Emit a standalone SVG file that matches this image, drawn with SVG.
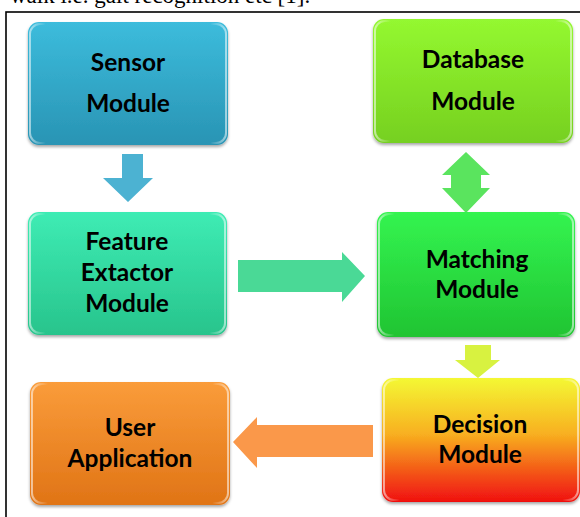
<svg xmlns="http://www.w3.org/2000/svg" width="580" height="517" viewBox="0 0 580 517">
  <style>
    .lbl { font-family: "Lato", "Open Sans", "Liberation Sans", sans-serif; font-weight: bold; font-size: 24.5px; fill: #000; text-anchor: middle; }
    .box { filter: url(#shadow); }
    .rim { fill: none; stroke: url(#rimGrad); stroke-width: 2; }
    .prose { font-family: "Liberation Serif", serif; font-size: 23px; fill: #000; }
  </style>
  <defs>
    <filter id="shadow" x="-10%" y="-10%" width="120%" height="125%">
      <feDropShadow dx="0" dy="2" stdDeviation="1.5" flood-color="#000" flood-opacity="0.35"/>
    </filter>
    <linearGradient id="rimGrad" x1="0" y1="0" x2="1" y2="0">
      <stop offset="0" stop-color="#fff" stop-opacity="0.55"/>
      <stop offset="0.08" stop-color="#fff" stop-opacity="0"/>
      <stop offset="0.92" stop-color="#fff" stop-opacity="0"/>
      <stop offset="1" stop-color="#fff" stop-opacity="0.55"/>
    </linearGradient>
    <linearGradient id="gSensor" x1="0" y1="0" x2="0" y2="1">
      <stop offset="0" stop-color="#3cbcdc"/>
      <stop offset="1" stop-color="#2994b4"/>
    </linearGradient>
    <linearGradient id="gDb" x1="0" y1="0" x2="0" y2="1">
      <stop offset="0" stop-color="#94f830"/>
      <stop offset="1" stop-color="#76d020"/>
    </linearGradient>
    <linearGradient id="gFeat" x1="0" y1="0" x2="0" y2="1">
      <stop offset="0" stop-color="#3eecb4"/>
      <stop offset="1" stop-color="#28c48c"/>
    </linearGradient>
    <linearGradient id="gMatch" x1="0" y1="0" x2="0" y2="1">
      <stop offset="0" stop-color="#34f450"/>
      <stop offset="1" stop-color="#20c432"/>
    </linearGradient>
    <linearGradient id="gDec" x1="0" y1="0" x2="0" y2="1">
      <stop offset="0" stop-color="#f4f834"/>
      <stop offset="0.45" stop-color="#f8b020"/>
      <stop offset="1" stop-color="#f01010"/>
    </linearGradient>
    <linearGradient id="gUser" x1="0" y1="0" x2="0" y2="1">
      <stop offset="0" stop-color="#fa9c3a"/>
      <stop offset="1" stop-color="#e07416"/>
    </linearGradient>
  </defs>

  <rect width="580" height="517" fill="#fff"/>

  <!-- running text above the figure -->
  <text class="prose" x="10" y="3">walk i.e. gait recognition etc [1].</text>

  <!-- figure frame -->
  <rect x="6" y="12" width="600" height="520" fill="none" stroke="#000" stroke-width="1.6"/>

  <!-- connectors -->
  <g id="connectors">
    <polygon points="122,154 143,154 143,178 153,178 128,202 103,178 122,178" fill="#4cb2d2"/>
    <polygon points="238,260 342,260 342,252 365,276 342,302 342,292 238,292" fill="#4ad996"/>
    <polygon points="466,152 490,175 481,175 481,188 490,188 466,213 442,188 451,188 451,175 442,175" fill="#5ae45e"/>
    <polygon points="465,345 491,345 491,360 500,360 478,378 455,360 465,360" fill="#d8f240"/>
    <polygon points="373,425 373,457 257,457 257,468 233,442 257,417 257,425" fill="#fa984a"/>
  </g>

  <g id="sensor">
    <rect class="box" x="28" y="22" width="200" height="123" rx="11" fill="url(#gSensor)"/>
    <rect class="rim" x="30" y="24" width="196" height="119" rx="10"/>
    <text class="lbl" x="128" y="71">Sensor</text>
    <text class="lbl" x="128" y="112">Module</text>
  </g>

  <g id="database">
    <rect class="box" x="373" y="19" width="200" height="124" rx="11" fill="url(#gDb)"/>
    <rect class="rim" x="375" y="21" width="196" height="120" rx="10"/>
    <text class="lbl" x="473" y="68">Database</text>
    <text class="lbl" x="473" y="110">Module</text>
  </g>

  <g id="feature">
    <rect class="box" x="28" y="212" width="199" height="123" rx="11" fill="url(#gFeat)"/>
    <rect class="rim" x="30" y="214" width="195" height="119" rx="10"/>
    <text class="lbl" x="127" y="250">Feature</text>
    <text class="lbl" x="127" y="281">Extactor</text>
    <text class="lbl" x="127" y="312">Module</text>
  </g>

  <g id="matching">
    <rect class="box" x="377" y="212" width="198" height="125" rx="11" fill="url(#gMatch)"/>
    <rect class="rim" x="379" y="214" width="194" height="121" rx="10"/>
    <text class="lbl" x="477" y="268">Matching</text>
    <text class="lbl" x="477" y="298">Module</text>
  </g>

  <g id="decision">
    <rect class="box" x="382" y="378" width="198" height="124" rx="11" fill="url(#gDec)"/>
    <rect class="rim" x="384" y="380" width="194" height="120" rx="10"/>
    <text class="lbl" x="480" y="433">Decision</text>
    <text class="lbl" x="480" y="463">Module</text>
  </g>

  <g id="user">
    <rect class="box" x="30" y="382" width="200" height="123" rx="11" fill="url(#gUser)"/>
    <rect class="rim" x="32" y="384" width="196" height="119" rx="10"/>
    <text class="lbl" x="130" y="436">User</text>
    <text class="lbl" x="130" y="467">Application</text>
  </g>
</svg>
